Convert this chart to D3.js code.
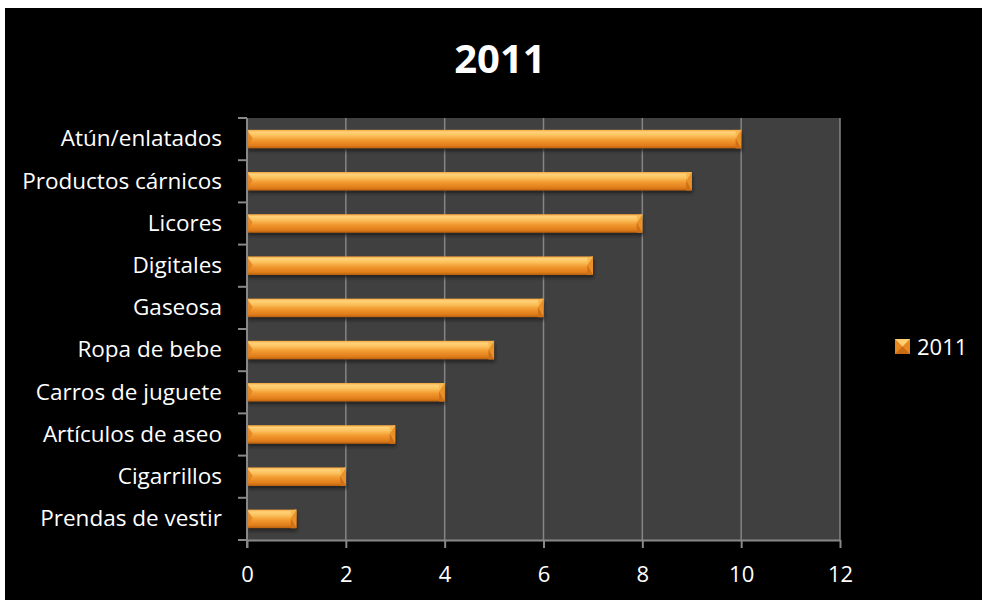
<!DOCTYPE html>
<html>
<head>
<meta charset="utf-8">
<script src="https://cdn.jsdelivr.net/npm/d3@7"></script>
<style>
  html, body { margin: 0; padding: 0; background: #ffffff; }
  svg { display: block; }
</style>
</head>
<body>
<script>
// Categories, top to bottom, and their values for 2011
const categories = [
  "Atún/enlatados", "Productos cárnicos", "Licores", "Digitales", "Gaseosa",
  "Ropa de bebe", "Carros de juguete", "Artículos de aseo", "Cigarrillos", "Prendas de vestir"
];
const values2011 = [10, 9, 8, 7, 6, 5, 4, 3, 2, 1];
const xTicks = [0, 2, 4, 6, 8, 10, 12];
const seriesName = "2011";
const chartTitle = "2011";

const W = 982, H = 600;
const font = "'Open Sans', sans-serif";

const svg = d3.select("body").append("svg").attr("width", W).attr("height", H);
const defs = svg.append("defs");

// vertical gradient for the bevelled bars
const g1 = defs.append("linearGradient").attr("id", "barGrad").attr("x1", 0).attr("y1", 0).attr("x2", 0).attr("y2", 1);
[[0, "#f6a53c"], [0.12, "#ffd27a"], [0.3, "#fcc25e"], [0.55, "#f29a30"], [0.85, "#e07d1a"], [1, "#b8600e"]]
  .forEach(([o, c]) => g1.append("stop").attr("offset", o).attr("stop-color", c));

const blur = defs.append("filter").attr("id", "shadow").attr("x", -0.1).attr("y", -0.5).attr("width", 1.2).attr("height", 2);
blur.append("feGaussianBlur").attr("stdDeviation", 1.6);

// black chart area with a thin white margin top/left
svg.append("rect").attr("x", 5).attr("y", 8).attr("width", W - 5).attr("height", H - 8).attr("fill", "#000");

const x = d3.scaleLinear().domain([0, 12]).range([247, 840]);
const y = d3.scaleBand().domain(categories).range([118, 540]).paddingInner(0.56).paddingOuter(0.28);

// plot area
svg.append("rect").attr("x", x(0)).attr("y", 118).attr("width", x(12) - x(0)).attr("height", 540 - 118).attr("fill", "#404040");

// vertical gridlines
svg.append("g").selectAll("line").data(xTicks.slice(1)).join("line")
  .attr("x1", d => x(d)).attr("x2", d => x(d))
  .attr("y1", 118).attr("y2", 540)
  .attr("stroke", "#858585").attr("stroke-width", 1.5);

// bars
const bars = svg.append("g").selectAll("g").data(categories).join("g");
bars.each(function (c, i) {
  const g = d3.select(this);
  const x0 = x(0), x1 = x(values2011[i]);
  const y0 = y(c), h = y.bandwidth();
  const b = h * 0.5; // bevel depth
  g.append("rect").attr("x", x0 + 1).attr("y", y0 + 3).attr("width", x1 - x0).attr("height", h)
    .attr("fill", "#1a1a1a").attr("opacity", 0.75).attr("filter", "url(#shadow)");
  g.append("rect").attr("x", x0).attr("y", y0).attr("width", x1 - x0).attr("height", h).attr("fill", "url(#barGrad)");
  // left bevel
  g.append("path").attr("d", `M${x0},${y0}L${x0 + b * 0.6},${y0 + h * 0.45}L${x0},${y0 + h}Z`).attr("fill", "#e08020").attr("opacity", 0.8);
  // right bevel
  g.append("path").attr("d", `M${x1},${y0}L${x1 - b * 0.6},${y0 + h * 0.45}L${x1},${y0 + h}Z`).attr("fill", "#ea9028");
  g.append("path").attr("d", `M${x1},${y0}L${x1 - b * 0.6},${y0 + h * 0.45}L${x1 - b * 0.6},${y0 + 1}Z`).attr("fill", "#f8b84f");
  g.append("path").attr("d", `M${x1},${y0 + h}L${x1 - b * 0.6},${y0 + h * 0.45}L${x1 - b * 0.6},${y0 + h}Z`).attr("fill", "#cf7016");
});

// axes
const axisColor = "#888888";
const xAxis = svg.append("g").attr("transform", `translate(0,540)`)
  .call(d3.axisBottom(x).tickValues(xTicks).tickSize(8).tickPadding(18).tickSizeOuter(0));
xAxis.select(".domain").attr("stroke", axisColor).attr("stroke-width", 2);
xAxis.selectAll(".tick line").attr("stroke", axisColor).attr("stroke-width", 2);
xAxis.selectAll(".tick text").attr("fill", "#fff").attr("font-family", font).attr("font-size", 22);

const yAxis = svg.append("g").attr("transform", `translate(${x(0)},0)`)
  .call(d3.axisLeft(y).tickSize(0).tickPadding(25));
yAxis.select(".domain").remove();
yAxis.selectAll(".tick text").attr("fill", "#fff").attr("font-family", font).attr("font-size", 22.5);
svg.append("line").attr("x1", x(0)).attr("x2", x(0)).attr("y1", 118).attr("y2", 548)
  .attr("stroke", axisColor).attr("stroke-width", 2);
// category boundary ticks
const bounds = d3.range(categories.length + 1).map(i => 118 + i * y.step());
svg.append("g").selectAll("line").data(bounds).join("line")
  .attr("x1", x(0) - 9).attr("x2", x(0)).attr("y1", d => d).attr("y2", d => d)
  .attr("stroke", axisColor).attr("stroke-width", 2);

// title
svg.append("text").attr("x", 500).attr("y", 73).attr("text-anchor", "middle")
  .attr("fill", "#fff").attr("font-family", font).attr("font-weight", "bold").attr("font-size", 40)
  .text(chartTitle);

// legend
const lg = svg.append("g").attr("transform", "translate(895,339)");
const s = 15;
lg.append("rect").attr("width", s).attr("height", s).attr("fill", "#e8891f");
lg.append("path").attr("d", `M0,0L${s},0L${s / 2},${s / 2}Z`).attr("fill", "#ffcf72");
lg.append("path").attr("d", `M0,${s}L${s},${s}L${s / 2},${s / 2}Z`).attr("fill", "#c96b14");
lg.append("text").attr("x", 22).attr("y", s + 1).attr("fill", "#fff").attr("font-family", font).attr("font-size", 22).text(seriesName);
</script>
</body>
</html>
